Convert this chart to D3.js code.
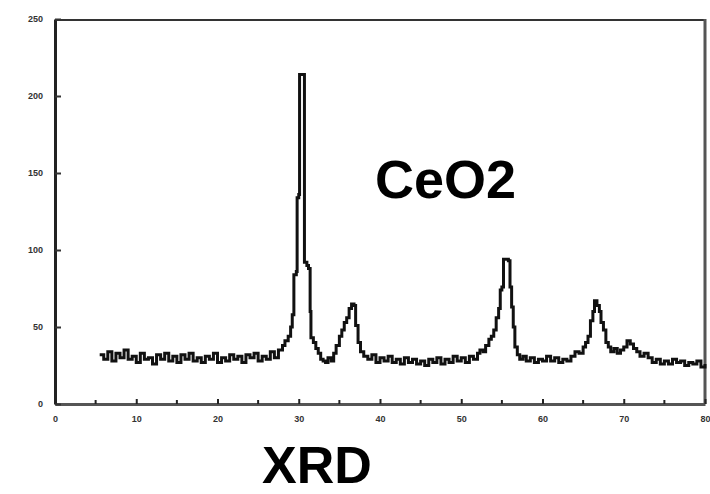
<!DOCTYPE html>
<html>
<head>
<meta charset="utf-8">
<script src="https://cdn.jsdelivr.net/npm/d3@7"></script>
<style>
  html, body { margin: 0; padding: 0; background: #fff; }
  svg { display: block; }
</style>
</head>
<body>
<svg id="chart" width="710" height="494"></svg>
<script>
// X-ray diffraction pattern of CeO2: 2θ (degrees) vs intensity (counts)
const twoTheta = [
  5.5, 6.0, 6.5, 7.0, 7.5, 8.0, 8.5, 9.0, 9.5, 10.0, 10.5, 11.0, 11.5, 12.0, 12.5, 13.0,
  13.5, 14.0, 14.5, 15.0, 15.5, 16.0, 16.5, 17.0, 17.5, 18.0, 18.5, 19.0, 19.5, 20.0, 20.5,
  21.0, 21.5, 22.0, 22.5, 23.0, 23.5, 24.0, 24.5, 25.0, 25.5, 26.0, 26.5, 27.0, 27.5, 28.0,
  28.3, 28.7, 29.0, 29.2, 29.4, 29.7, 29.8, 30.0, 30.1, 30.6, 30.7, 31.0, 31.2, 31.4, 31.5,
  31.8, 32.1, 32.4, 32.7, 33.0, 33.3, 33.6, 34.0, 34.3, 34.6, 35.0, 35.3, 35.6, 35.9, 36.2,
  36.5, 36.8, 37.0, 37.3, 37.6, 38.0, 38.5, 39.0, 39.5, 40.0, 40.5, 41.0, 41.5, 42.0, 42.5,
  43.0, 43.5, 44.0, 44.5, 45.0, 45.5, 46.0, 46.5, 47.0, 47.5, 48.0, 48.5, 49.0, 49.5, 50.0,
  50.5, 51.0, 51.5, 52.0, 52.3, 52.7, 53.0, 53.4, 53.7, 54.0, 54.3, 54.6, 54.8, 55.0, 55.2,
  55.8, 56.0, 56.2, 56.4, 56.6, 56.9, 57.2, 57.6, 58.0, 58.5, 59.0, 59.5, 60.0, 60.5, 61.0,
  61.5, 62.0, 62.5, 63.0, 63.5, 64.0, 64.5, 65.0, 65.3, 65.6, 65.9, 66.2, 66.4, 66.7, 67.0,
  67.2, 67.5, 67.8, 68.1, 68.4, 68.8, 69.2, 69.6, 70.0, 70.4, 70.8, 71.2, 71.6, 72.0, 72.5,
  73.0, 73.5, 74.0, 74.5, 75.0, 75.5, 76.0, 76.5, 77.0, 77.5, 78.0, 78.5, 79.0, 79.5, 80.0
];
const intensity = [
  32, 29, 34, 28, 33, 30, 35, 29, 31, 27, 33, 29, 30, 26, 32, 29,
  33, 28, 31, 27, 32, 29, 33, 28, 30, 27, 31, 29, 33, 27, 30,
  28, 32, 29, 31, 27, 32, 30, 33, 28, 31, 29, 34, 30, 35, 38,
  41, 44, 50, 58, 84, 86, 134, 136, 214, 214, 92, 90, 88, 60, 43,
  40, 36, 33, 29, 28, 27, 30, 28, 33, 38, 44, 48, 53, 56, 62,
  65, 64, 51, 40, 34, 31, 29, 32, 27, 30, 28, 31, 27, 29, 26,
  30, 27, 29, 26, 28, 25, 29, 27, 30, 26, 29, 27, 31, 28, 30,
  27, 31, 29, 33, 35, 34, 38, 42, 44, 48, 56, 62, 74, 76, 94,
  93, 76, 63, 50, 37, 32, 29, 31, 28, 30, 27, 29, 28, 31, 28,
  30, 27, 29, 28, 31, 34, 33, 37, 40, 44, 54, 60, 67, 64, 60,
  53, 48, 40, 37, 34, 36, 33, 35, 37, 41, 39, 36, 34, 31, 33,
  30, 27, 29, 26, 28, 26, 29, 27, 28, 25, 27, 26, 28, 24, 26
];
const xTicks = [0, 10, 20, 30, 40, 50, 60, 70, 80];
const xMinorTicks = [5, 15, 25, 35, 45, 55, 65, 75];
const yTicks = [0, 50, 100, 150, 200, 250];
const sampleLabel = "CeO2";
const methodLabel = "XRD";

const svg = d3.select("#chart");
const plotLeft = 55, plotRight = 705, plotTop = 19, plotBottom = 404;

const x = d3.scaleLinear().domain([0, 80]).range([plotLeft, plotRight]);
const y = d3.scaleLinear().domain([0, 250]).range([plotBottom, plotTop]);

const points = twoTheta.map((t, i) => [t, intensity[i]]);

// frame
svg.append("line").attr("x1", plotLeft).attr("x2", plotRight)
  .attr("y1", plotTop + 1).attr("y2", plotTop + 1)
  .attr("stroke", "#333").attr("stroke-width", 2);
svg.append("line").attr("x1", plotRight).attr("x2", plotRight)
  .attr("y1", plotTop).attr("y2", plotBottom)
  .attr("stroke", "#555").attr("stroke-width", 3);

// x axis: ticks point into the plot
const xAxis = svg.append("g").attr("transform", `translate(0,${plotBottom})`)
  .call(d3.axisBottom(x).tickValues(xTicks).tickSizeInner(-5).tickSizeOuter(0).tickPadding(12));
xAxis.select(".domain").attr("stroke", "#555").attr("stroke-width", 3);
xAxis.selectAll(".tick line").attr("stroke", "#222").attr("stroke-width", 2);
xAxis.selectAll(".tick text")
  .attr("font-family", "Liberation Sans, Arial, sans-serif").attr("font-size", 9)
  .attr("font-weight", "bold").attr("fill", "#333");
svg.append("g").selectAll("line").data(xMinorTicks).join("line")
  .attr("x1", d => x(d)).attr("x2", d => x(d))
  .attr("y1", plotBottom).attr("y2", plotBottom - 4)
  .attr("stroke", "#222").attr("stroke-width", 2);

// y axis
const yAxis = svg.append("g").attr("transform", `translate(${plotLeft},0)`)
  .call(d3.axisLeft(y).tickValues(yTicks).tickSizeInner(-6).tickSizeOuter(0).tickPadding(12));
yAxis.select(".domain").attr("stroke", "#222").attr("stroke-width", 3);
yAxis.selectAll(".tick line").attr("stroke", "#333").attr("stroke-width", 2);
yAxis.selectAll(".tick text")
  .attr("font-family", "Liberation Sans, Arial, sans-serif").attr("font-size", 9)
  .attr("font-weight", "bold").attr("fill", "#333");

// diffraction trace
svg.append("path").datum(points)
  .attr("fill", "none").attr("stroke", "#111").attr("stroke-width", 3)
  .attr("stroke-linejoin", "miter")
  .attr("d", d3.line().x(d => x(d[0])).y(d => y(d[1])).curve(d3.curveStepAfter));

// labels
svg.append("text").attr("x", 375).attr("y", 198)
  .attr("font-family", "Liberation Sans, Arial, sans-serif").attr("font-weight", "bold")
  .attr("font-size", 54).attr("fill", "#000").text(sampleLabel);
svg.append("text").attr("x", 262).attr("y", 483)
  .attr("font-family", "Liberation Sans, Arial, sans-serif").attr("font-weight", "bold")
  .attr("font-size", 52).attr("fill", "#000").text(methodLabel);
</script>
</body>
</html>
